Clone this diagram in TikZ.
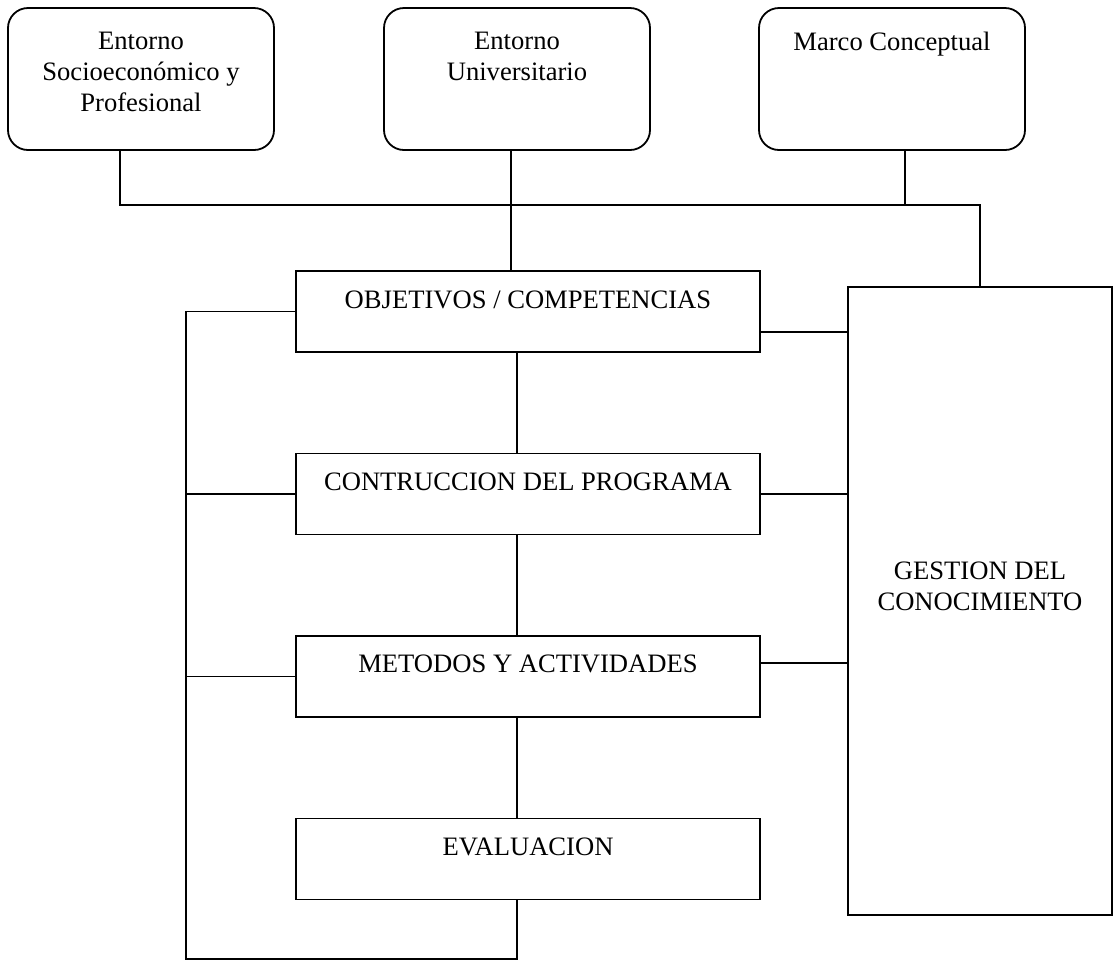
\documentclass[tikz,border=0pt]{standalone}
\usepackage{fontspec}
\setmainfont{Liberation Serif}
\begin{document}
\begin{tikzpicture}[x=0.5pt,y=-0.5pt,
	arrondi/.style={draw,line width=0.9pt,rounded corners=10pt,inner sep=0pt,minimum width=133pt,minimum height=71pt},
	cadre/.style={draw,line width=0.9pt,inner sep=0pt,minimum width=232pt,minimum height=40.5pt},
	texte/.style={inner sep=0pt,align=center,font=\fontsize{13.3pt}{15.5pt}\selectfont},
	lien/.style={line width=0.9pt}]
%					Cadre de la figure :
					\useasboundingbox (0,0) rectangle (1115,960);
%					Cadres du haut :
					\node[arrondi] (socio) at (141,79) {};
					\node[arrondi] (univ) at (517,79) {};
					\node[arrondi] (marco) at (892,79) {};
					\node[texte,anchor=north] (sociotxt) at (141,32) {Entorno\\Socioeconómico y\\Profesional};
					\node[texte,anchor=north] (univtxt) at (517,32) {Entorno\\Universitario};
					\node[texte,anchor=north] (marcotxt) at (892,32) {Marco Conceptual};
%					Étapes du programme :
					\node[cadre] (obj) at (528,311.5) {};
					\node[cadre] (contr) at (528,494) {};
					\node[cadre] (met) at (528,676.5) {};
					\node[cadre] (eval) at (528,859) {};
					\node[texte,anchor=base] (objtxt) at (528,308) {OBJETIVOS / COMPETENCIAS};
					\node[texte,anchor=base] (contrtxt) at (528,490) {CONTRUCCION DEL PROGRAMA};
					\node[texte,anchor=base] (mettxt) at (528,672) {METODOS Y ACTIVIDADES};
					\node[texte,anchor=base] (evaltxt) at (528,855) {EVALUACION};
%					Gestion du conocimiento :
					\node[draw,line width=0.9pt,inner sep=0pt,minimum width=132pt,minimum height=314pt] (gest) at (980,601) {};
					\node[texte,anchor=north] (gesttxt) at (980,561) {GESTION DEL\\CONOCIMIENTO};
%					Tracé des liaisons du haut :
					\coordinate (b1) at (120,205);
					\coordinate (b2) at (511,205);
					\coordinate (b3) at (905,205);
					\coordinate (b4) at (980,205);
					\draw[lien] (b1 |- socio.south) -- (b1) -- (b4) -- (gest.north);
					\draw[lien] (b2 |- univ.south) -- (b2 |- obj.north);
					\draw[lien] (b3 |- marco.south) -- (b3);
%					Tracé de la boucle :
					\coordinate (axe) at (517,959);
					\coordinate (coin) at (186,959);
					\draw[lien] (axe |- obj.south) -- (axe |- contr.north);
					\draw[lien] (axe |- contr.south) -- (axe |- met.north);
					\draw[lien] (axe |- met.south) -- (axe |- eval.north);
					\draw[lien] (axe |- eval.south) -- (axe) -- (coin) -- (coin |- obj.west) -- (obj.west);
					\draw[lien] (coin |- contr.west) -- (contr.west);
					\draw[lien] (coin |- met.west) -- (met.west);
%					Tracé des liaisons de droite :
					\coordinate (d1) at (804,332);
					\coordinate (d2) at (804,494);
					\coordinate (d3) at (804,663);
					\draw[lien] (d1 -| obj.east) -- (d1 -| gest.west);
					\draw[lien] (d2 -| contr.east) -- (d2 -| gest.west);
					\draw[lien] (d3 -| met.east) -- (d3 -| gest.west);
\end{tikzpicture}
\end{document}
